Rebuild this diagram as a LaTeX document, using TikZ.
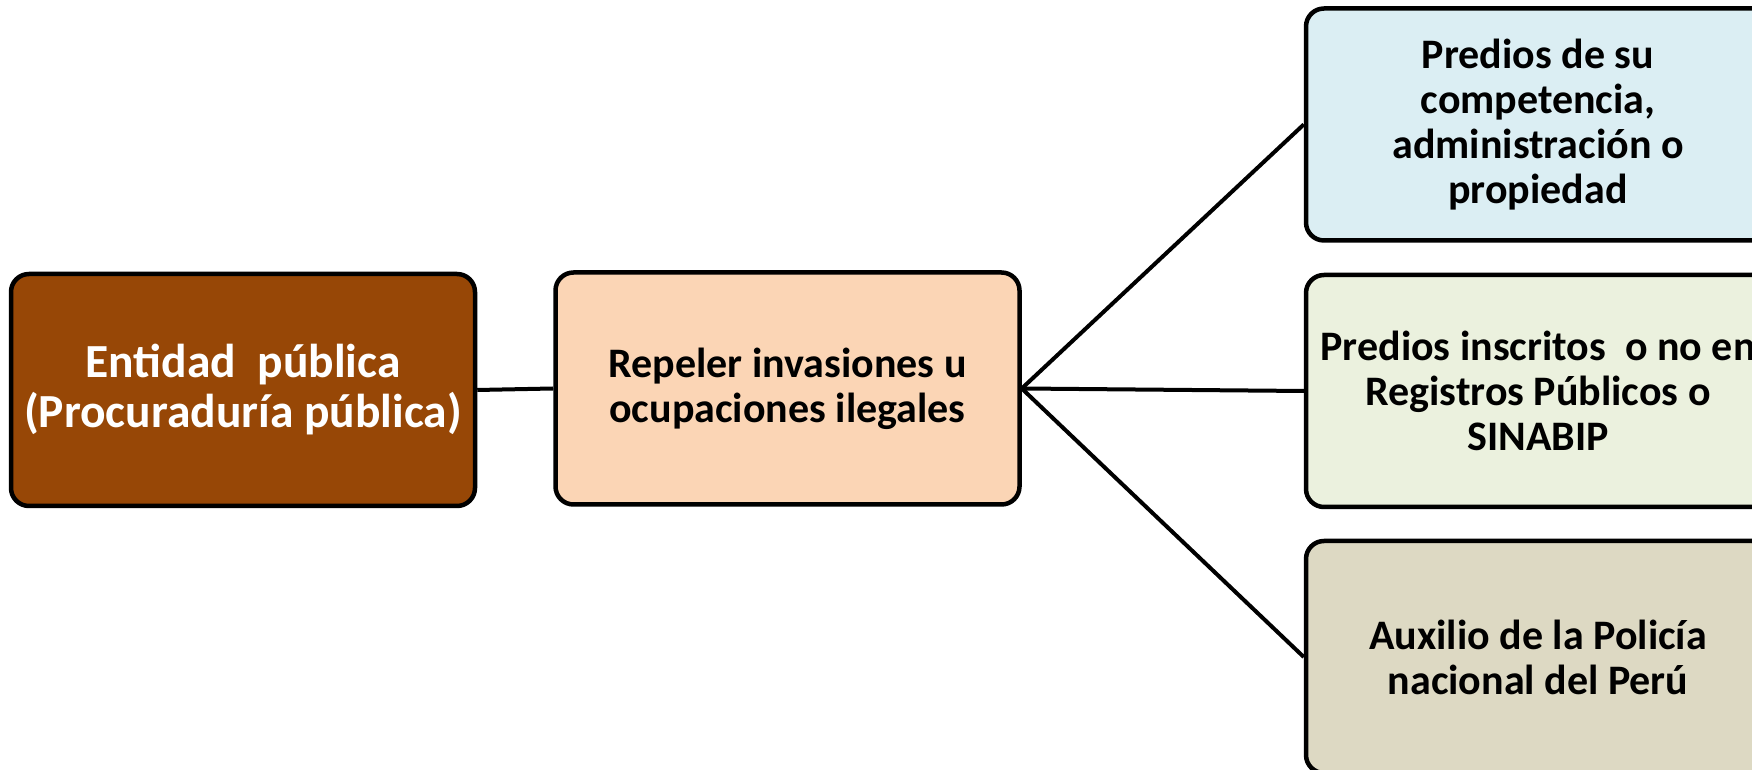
\documentclass[tikz,border=0pt]{standalone}
\usepackage{fontspec}
\setmainfont{Carlito}
\definecolor{cbrown}{HTML}{974706}
\definecolor{cpeach}{HTML}{FBD5B5}
\definecolor{cblue}{HTML}{DBEEF3}
\definecolor{cgreen}{HTML}{EBF1DE}
\definecolor{ctan}{HTML}{DDD9C3}
\tikzset{
  box/.style={draw=black, line width=4.5pt, rounded corners=18pt, minimum width=464pt, minimum height=232pt, inner sep=0pt, align=center, font=\fontsize{42}{45}\selectfont\bfseries},
  link/.style={draw=black, line width=4pt}
}
\begin{document}
\begin{tikzpicture}[x=1pt,y=1pt]
\useasboundingbox (0,0) rectangle (1752,770);
\clip (0,0) rectangle (1752,770);
\fill[white] (0,0) rectangle (1752,770);
\node[box, fill=cbrown, text=white, font=\fontsize{47.5}{50}\selectfont\bfseries] (ent) at (243,380) {Entidad\ \ pública\\(Procuraduría pública)};
\node[box, fill=cpeach] (rep) at (787.5,381.5) {Repeler invasiones u\\ocupaciones ilegales};
\node[box, fill=cblue] (pre) at (1538,645.5) {Predios de su\\competencia,\\administración o\\propiedad};
\node[box, fill=cgreen] (ins) at (1538,379) {\makebox[0pt][c]{Predios inscritos\ \ o no en}\\Registros Públicos o\\SINABIP};
\node[box, fill=ctan] (aux) at (1538,113) {Auxilio de la Policía\\nacional del Perú};
\draw[link] (ent.east) -- (rep.west);
\draw[link] (rep.east) -- (pre.west);
\draw[link] (rep.east) -- (ins.west);
\draw[link] (rep.east) -- (aux.west);
\end{tikzpicture}
\end{document}
